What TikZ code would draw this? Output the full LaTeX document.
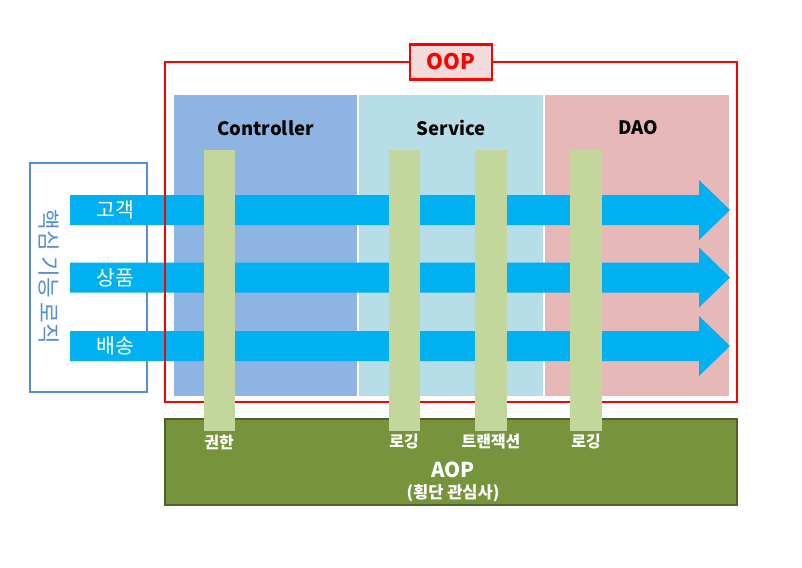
\documentclass[tikz,border=0pt]{standalone}
\usepackage{fontspec}
\setmainfont{Noto Sans CJK KR}
\definecolor{ctrl}{HTML}{8EB4E3}
\definecolor{serv}{HTML}{B7DEE8}
\definecolor{daoc}{HTML}{E6B9B8}
\definecolor{barg}{HTML}{C3D69B}
\definecolor{aopg}{HTML}{77933C}
\definecolor{aopb}{HTML}{4F6228}
\definecolor{arrb}{HTML}{00B0F0}
\definecolor{boxb}{HTML}{558ED5}
\definecolor{oopfill}{HTML}{F2DCDB}
\definecolor{oopred}{HTML}{FF0000}
\tikzset{
  column/.style={draw=none, inner sep=0pt, anchor=north west},
  collabel/.style={font=\bfseries\fontsize{18.5}{22}\selectfont, text=black},
  aspbar/.style={fill=barg, draw=none},
  flow/.style={fill=arrb, draw=none},
  flowlabel/.style={text=white, font=\fontsize{20.5}{24}\selectfont},
  asplabel/.style={text=white, font=\bfseries\fontsize{16}{18}\selectfont},
}
\begin{document}
\begin{tikzpicture}[x=1pt,y=-1pt]
\useasboundingbox (0,0) rectangle (802,567);
% left box
\draw[boxb, line width=1.8pt] (30,163) rectangle (147,392);
\node[text=boxb, rotate=-90, font=\fontsize{22.5}{26}\selectfont] (core) at (49,277) {핵심 기능 로직};
% columns
\fill[ctrl] (174,95) rectangle (357,396);
\fill[serv] (359,95) rectangle (543,396);
\fill[daoc] (545,95) rectangle (729,396);
\node[collabel] (controller) at (265.5,128) {Controller};
\node[collabel] (service) at (451,128) {Service};
\node[collabel] (dao) at (638,128) {DAO};
% AOP box
\draw[aopb, fill=aopg, line width=1.8pt] (165,419) rectangle (737,505);
\node[text=white, font=\bfseries\fontsize{20.5}{24}\selectfont] (aop) at (453,470) {AOP};
\node[text=white, font=\bfseries\fontsize{16.5}{19}\selectfont] (aopsub) at (453,493) {(횡단 관심사)};
% flows
\foreach \c/\t/\n in {210/고객/f1, 277.5/상품/f2, 346/배송/f3}{
  \fill[flow] (70,\c-15) -- (699,\c-15) -- (699,\c-30) -- (730,\c) -- (699,\c+30) -- (699,\c+15) -- (70,\c+15) -- cycle;
  \node[flowlabel] (\n) at (115.5,\c) {\t};
}
% OOP frame
\draw[oopred, line width=1.6pt] (165,62) rectangle (737,402);
\node[draw=oopred, fill=oopfill, line width=2.2pt, minimum width=82pt, minimum height=35pt, inner sep=0pt, text=oopred, font=\bfseries\fontsize{21.5}{24}\selectfont] (oop) at (451,62) {OOP};
% aspect bars
\fill[aspbar] (203.5,150) rectangle (235,431);
\fill[aspbar] (388.5,150) rectangle (419.5,431);
\fill[aspbar] (475,150) rectangle (507,431);
\fill[aspbar] (570,150) rectangle (601.5,431);
\node[asplabel] (l1) at (219,442) {권한};
\node[asplabel] (l2) at (404,442) {로깅};
\node[asplabel] (l3) at (491,442) {트랜잭션};
\node[asplabel] (l4) at (586,442) {로깅};
\end{tikzpicture}
\end{document}
